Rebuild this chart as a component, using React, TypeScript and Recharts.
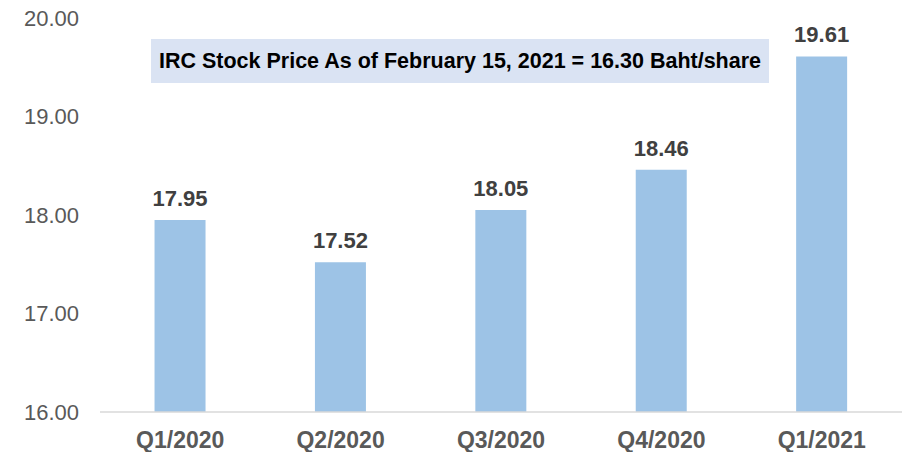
import { BarChart, Bar, XAxis, YAxis, LabelList } from "recharts";

const QUARTERS = ["Q1/2020", "Q2/2020", "Q3/2020", "Q4/2020", "Q1/2021"];
const BOOK_VALUE = [17.95, 17.52, 18.05, 18.46, 19.61];
const Y_TICKS = [16, 17, 18, 19, 20];
const NOTE = "IRC Stock Price As of February 15, 2021 = 16.30 Baht/share";

const FONT = "'Liberation Sans', Arial, sans-serif";

export default function App() {
  const data = QUARTERS.map((q, i) => ({ name: q, value: BOOK_VALUE[i] }));

  return (
    <div style={{ position: "absolute", left: 0, top: 0, width: 903, height: 452, fontFamily: FONT }}>
      <BarChart
        width={903}
        height={452}
        data={data}
        margin={{ top: 18, right: 1, left: 0, bottom: 0 }}
        barCategoryGap="34%"
      >
        <XAxis
          dataKey="name"
          axisLine={{ stroke: "#d9d9d9", strokeWidth: 1.5 }}
          tickLine={false}
          tickSize={0}
          tickMargin={20}
          height={40}
          interval={0}
          tick={{ fontSize: 23, fontWeight: "bold", fill: "#595959", fontFamily: FONT }}
        />
        <YAxis
          domain={[16, 20]}
          ticks={Y_TICKS}
          axisLine={false}
          tickLine={false}
          tickSize={0}
          tickMargin={21}
          width={100}
          tickFormatter={(v: number) => v.toFixed(2)}
          tick={{ fontSize: 22, fill: "#595959", fontFamily: FONT }}
        />
        <Bar dataKey="value" fill="#9dc3e6" isAnimationActive={false}>
          <LabelList
            dataKey="value"
            position="top"
            offset={14}
            formatter={(v: number) => v.toFixed(2)}
            style={{ fontSize: 22, fontWeight: "bold", fill: "#404040", fontFamily: FONT }}
          />
        </Bar>
      </BarChart>
      <div
        style={{
          position: "absolute",
          left: 151,
          top: 39,
          width: 618,
          height: 44,
          background: "#dae3f3",
          display: "flex",
          alignItems: "center",
          justifyContent: "center",
          fontWeight: "bold",
          fontSize: 21.5,
          color: "#000",
          whiteSpace: "nowrap",
        }}
      >
        {NOTE}
      </div>
    </div>
  );
}
